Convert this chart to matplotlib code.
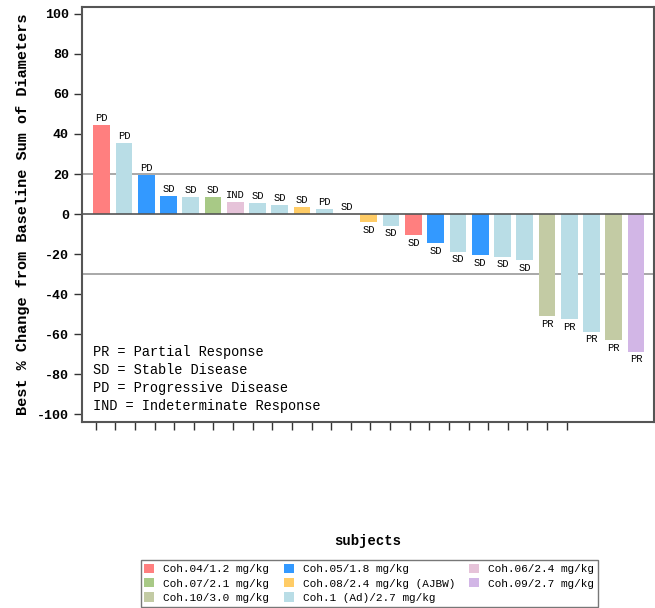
import numpy as np
import matplotlib
matplotlib.use('Agg')
from matplotlib import pyplot as plt
from matplotlib.patches import Patch

plt.rcParams['font.family'] = ['Liberation Mono', 'DejaVu Sans Mono']

# best % change per subject, sorted
values = [44.5, 35.7, 19.3, 9.2, 8.7, 8.7, 6.0, 5.7, 4.5, 3.3, 2.5, 0.0,
          -4.2, -5.8, -10.5, -14.7, -18.8, -20.5, -21.3, -23.0,
          -51.0, -52.5, -58.8, -63.0, -68.8]
responses = ['PD', 'PD', 'PD', 'SD', 'SD', 'SD', 'IND', 'SD', 'SD', 'SD', 'PD', 'SD',
             'SD', 'SD', 'SD', 'SD', 'SD', 'SD', 'SD', 'SD',
             'PR', 'PR', 'PR', 'PR', 'PR']
cohorts = ['c04', 'c1ad', 'c05', 'c05', 'c1ad', 'c07', 'c06', 'c1ad', 'c1ad', 'c08', 'c1ad', 'c1ad',
           'c08', 'c1ad', 'c04', 'c05', 'c1ad', 'c05', 'c1ad', 'c1ad',
           'c10', 'c1ad', 'c1ad', 'c10', 'c09']

cohort_names = {'c04': 'Coh.04/1.2 mg/kg', 'c05': 'Coh.05/1.8 mg/kg', 'c06': 'Coh.06/2.4 mg/kg',
                'c07': 'Coh.07/2.1 mg/kg', 'c08': 'Coh.08/2.4 mg/kg (AJBW)', 'c09': 'Coh.09/2.7 mg/kg',
                'c10': 'Coh.10/3.0 mg/kg', 'c1ad': 'Coh.1 (Ad)/2.7 mg/kg'}
cohort_colors = {'c04': '#FF7F7F', 'c05': '#3399FF', 'c06': '#E6C3D9', 'c07': '#A8C986',
                 'c08': '#FFCC66', 'c09': '#D2B6E6', 'c10': '#C3CBA4', 'c1ad': '#B9DDE6'}
legend_order = ['c04', 'c07', 'c10', 'c05', 'c08', 'c1ad', 'c06', 'c09']

fig = plt.figure(figsize=(6.55, 6.08), dpi=100)
ax = fig.add_axes([0.1252, 0.3059, 0.8733, 0.6826])

x = np.arange(len(values))
ax.bar(x, values, width=0.75, color=[cohort_colors[c] for c in cohorts], zorder=2)

for xi, v, r in zip(x, values, responses):
    if v >= 0:
        ax.annotate(r, (xi, v), xytext=(0, 1.5), textcoords='offset points',
                    ha='center', va='bottom', fontsize=7.5)
    else:
        ax.annotate(r, (xi, v), xytext=(0, -2), textcoords='offset points',
                    ha='center', va='top', fontsize=7.5)

# reference lines
ax.axhline(20, color='#999999', lw=1.2, zorder=1)
ax.axhline(-30, color='#999999', lw=1.2, zorder=1)
ax.axhline(0, color='#555555', lw=1.2, zorder=3)

ax.set_ylim(-104, 103.5)
ax.set_xlim(-0.885, 24.81)
ax.set_yticks(range(-100, 101, 20))
ax.set_yticklabels([str(v) for v in range(-100, 101, 20)], fontsize=9.5, fontweight='bold')
ax.set_xticks(np.linspace(-0.27, 20.89, 25))
ax.set_xticklabels([])
ax.tick_params(axis='both', direction='out', length=6, width=1, color='#333333')
for s in ax.spines.values():
    s.set_color('#555555')
    s.set_linewidth(1.5)

ax.set_ylabel('Best % Change from Baseline Sum of Diameters', fontsize=11,
              fontweight='bold', labelpad=5)
ax.set_xlabel('subjects', fontsize=10, fontweight='bold', labelpad=71)

ax.text(0.02, 0.185, 'PR = Partial Response\nSD = Stable Disease\nPD = Progressive Disease\n'
        'IND = Indeterminate Response', transform=ax.transAxes, fontsize=9.8,
        va='top', ha='left', linespacing=1.35)

handles = [Patch(facecolor=cohort_colors[c], label=cohort_names[c]) for c in legend_order]
fig.legend(handles=handles, ncol=3, loc='lower center', bbox_to_anchor=(0.564, 0.002),
           fontsize=8, frameon=True, fancybox=False, edgecolor='#555555',
           handlelength=0.9, handleheight=0.9, handletextpad=0.8, columnspacing=1.3,
           borderpad=0.35, labelspacing=0.35, borderaxespad=0)

plt.savefig('out.png', dpi=100)
